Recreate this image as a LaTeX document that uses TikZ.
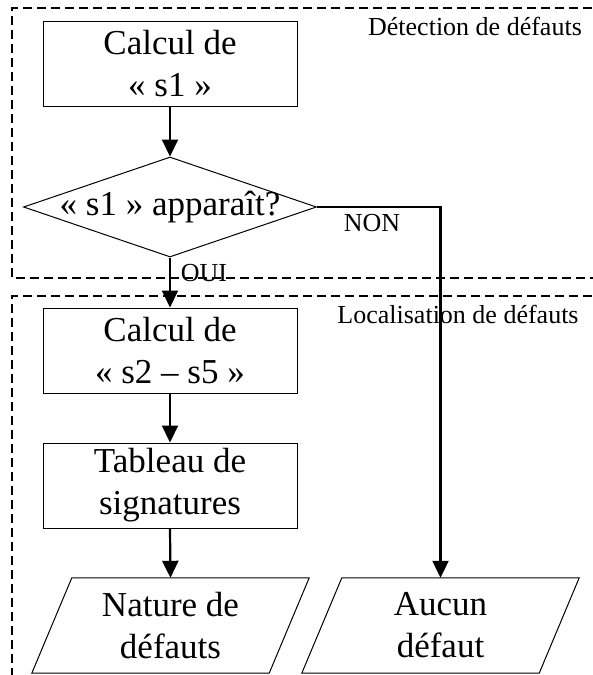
\documentclass[tikz,border=0pt]{standalone}
\usepackage{fontspec}
\setmainfont{Liberation Serif}
\usetikzlibrary{shapes.geometric,arrows.meta,calc}
\begin{document}
\begin{tikzpicture}[x=1pt,y=-1pt,
  big/.style={font=\fontsize{35}{42}\selectfont, align=center},
  small/.style={font=\fontsize{26}{30}\selectfont, inner sep=0pt},
  procbox/.style={big, draw, line width=1pt, minimum width=254pt, minimum height=85pt, inner sep=0pt},
  iobox/.style={big, minimum width=237pt, minimum height=95pt, inner sep=0pt},
  zone/.style={line width=1.8pt, dash pattern=on 9pt off 5pt},
  flow/.style={line width=2.2pt, -{Triangle[length=17pt,width=16pt]}},
  iodraw/.style={line width=1pt}
]
\useasboundingbox (0,0) rectangle (592,675);
% zones
\draw[zone] (606,8) -- (12,8) -- (12,278) -- (606,278);
\draw[zone] (606,296) -- (12,296) -- (12,690);
\node[small] (lab1) at (475,26) {Détection de défauts};
\node[small] (lab2) at (458,314) {Localisation de défauts};
% nodes
\node[procbox] (c1) at (170,63.5) {Calcul de\\« s1 »};
\node[diamond, draw, line width=1pt, minimum width=293pt, minimum height=100pt, inner sep=0pt] (d) at (170,207) {};
\node[big, inner sep=0pt] (dt) at (170,207) {« s1 » apparaît?};
\node[procbox] (c2) at (170,350.5) {Calcul de\\« s2 – s5 »};
\node[procbox] (t) at (170,485.5) {Tableau de\\signatures};
\node[iobox] (nat) at (170.5,625.5) {Nature de\\défauts};
\node[iobox] (auc) at (440.5,625.5) {Aucun\\défaut};
\draw[iodraw] ($(nat.north west)+(20,0)$) -- ($(nat.north east)+(20,0)$) -- ($(nat.south east)+(-20,0)$) -- ($(nat.south west)+(-20,0)$) -- cycle;
\draw[iodraw] ($(auc.north west)+(20,0)$) -- ($(auc.north east)+(20,0)$) -- ($(auc.south east)+(-20,0)$) -- ($(auc.south west)+(-20,0)$) -- cycle;
% connectors
\draw[flow] (c1.south) -- (d.north);
\draw[flow] (d.south) -- (c2.north);
\draw[flow] (c2.south) -- (t.north);
\draw[flow] (t.south) -- (nat.north);
\draw[flow] (d.east) -| (auc.north);
\node[small] (oui) at (204,273) {OUI};
\node[small] (non) at (372,223) {NON};
\end{tikzpicture}
\end{document}
